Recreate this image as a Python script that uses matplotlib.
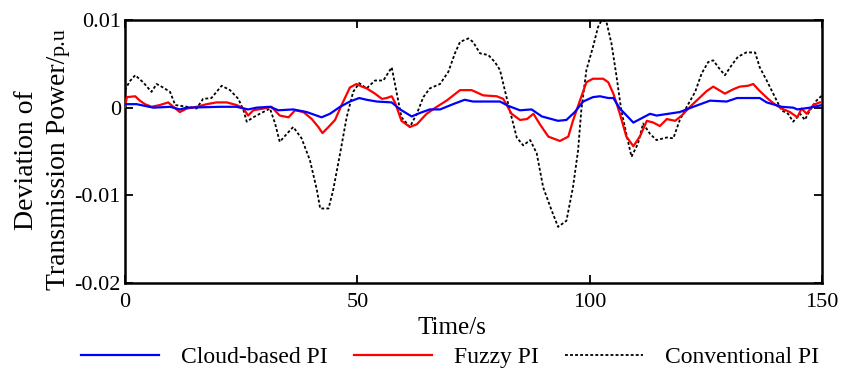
import matplotlib.pyplot as plt
import numpy as np

plt.rcParams['font.family'] = ['Liberation Serif', 'DejaVu Serif']
plt.rcParams['axes.unicode_minus'] = False

# values, in 1e-3 p.u.
t_cloud = [0, 2.5, 6.1, 9.7, 11.8, 13.3, 20.4, 24.0, 26.5, 28.3, 31.2, 33.0, 36.2, 39.1,
           42.3, 44.1, 46.3, 48.4, 50.4, 52.0, 54.2, 57.4, 59.2, 61.7, 63.5, 65.6, 67.8,
           70.6, 73.1, 74.9, 80.7, 82.5, 85.0, 87.5, 89.7, 93.2, 95.0, 96.8, 98.6, 100.7,
           102.2, 104.0, 105.1, 106.5, 109.4, 113.0, 114.4, 119.4, 122.3, 125.9, 129.5,
           131.7, 136.6, 138.1, 141.3, 143.8, 144.7, 147.4, 150]
v_cloud = [0.4, 0.4, 0.0, 0.1, -0.2, 0.0, 0.1, 0.1, -0.2, 0.0, 0.1, -0.3, -0.2, -0.5,
           -1.1, -0.7, 0.1, 0.7, 1.1, 0.9, 0.7, 0.6, -0.2, -1.0, -0.6, -0.2, -0.2,
           0.4, 0.9, 0.7, 0.7, 0.2, -0.3, -0.2, -1.0, -1.5, -1.4, -0.5, 0.7, 1.2,
           1.3, 1.1, 1.1, -0.1, -1.7, -0.7, -0.9, -0.5, 0.1, 0.8, 0.7,
           1.1, 1.1, 0.6, 0.1, 0.0, -0.2, 0.0, 0.3]

t_fuzzy = [0, 0.4, 2.2, 3.2, 4.3, 5.7, 7.5, 9.3, 10.4, 11.8, 13.3, 15.4, 17.6, 19.7, 21.9,
           24.0, 25.5, 26.5, 27.6, 29.8, 31.5, 33.3, 35.2, 36.6, 38.4, 40.2, 41.6, 42.5,
           43.8, 45.2, 46.7, 48.4, 49.8, 51.0, 52.0, 53.8, 55.3, 56.3, 57.4, 58.1, 59.5,
           61.3, 62.8, 64.9, 67.1, 69.2, 72.1, 74.6, 77.1, 80.0, 81.4, 83.2, 85.0, 86.5,
           87.9, 89.3, 91.1, 93.6, 95.4, 96.4, 97.9, 99.3, 100.7, 102.9, 104.0, 105.1,
           106.5, 107.9, 109.4, 110.8, 112.3, 113.7, 115.1, 116.6, 118.4, 119.8, 121.6,
           123.8, 125.2, 126.6, 129.1, 130.9, 132.3, 134.1, 135.2, 136.6, 138.4, 139.8,
           141.3, 143.1, 144.7, 145.6, 146.7, 148.1, 149.5, 150]
v_fuzzy = [0.1, 1.2, 1.3, 0.8, 0.4, 0.1, 0.3, 0.6, 0.1, -0.5, -0.1, 0.1, 0.4, 0.6, 0.6,
           0.3, -0.1, -0.9, -0.3, -0.1, 0.1, -0.9, -1.1, -0.3, -0.5, -1.3, -2.2, -2.9,
           -2.2, -1.4, 0.4, 2.3, 2.7, 2.4, 2.2, 1.6, 1.0, 1.1, 1.3, 0.6, -1.5,
           -2.2, -1.9, -0.7, 0.1, 0.8, 2.0, 2.0, 1.4, 1.3, 1.0, -0.7, -1.4, -1.3,
           -0.7, -1.9, -3.3, -3.8, -3.3, -1.5, 0.8, 2.9, 3.3, 3.3, 2.9, 1.6,
           -0.7, -3.3, -4.4, -3.3, -1.5, -1.7, -2.1, -1.3, -1.5, -0.9, 0.1,
           1.2, 1.9, 2.4, 1.6, 2.1, 2.4, 2.5, 2.7, 1.9, 1.0, 0.4,
           -0.1, -0.5, -1.1, -0.1, -0.7, 0.3, 0.6, 0.6]

t_conv = [0, 1.0, 2.2, 3.9, 5.7, 6.8, 8.2, 9.7, 10.8, 13.3, 15.4, 16.8, 18.6, 20.8, 22.6,
          24.4, 25.5, 26.2, 27.6, 29.0, 31.2, 32.3, 33.3, 34.8, 36.2, 38.0, 39.8, 41.3,
          42.0, 43.8, 44.8, 46.3, 47.7, 49.1, 50.4, 52.0, 53.8, 55.6, 57.4, 58.5, 59.5,
          61.3, 62.8, 64.2, 65.6, 67.8, 69.6, 71.0, 72.1, 73.9, 74.9, 76.4, 78.2, 79.6,
          80.7, 82.1, 83.2, 84.3, 85.7, 87.2, 88.6, 90.0, 91.8, 93.2, 95.0, 96.4, 97.5,
          98.2, 99.3, 100.7, 101.8, 102.6, 103.6, 104.7, 105.8, 106.8, 107.9, 109.0,
          110.4, 111.5, 113.0, 114.4, 116.6, 118.0, 119.4, 120.9, 122.7, 124.1, 125.5,
          126.6, 127.7, 129.1, 130.5, 131.9, 133.7, 135.6, 136.6, 138.1, 139.5, 141.3,
          142.7, 143.8, 145.3, 146.3, 147.4, 148.8, 150]
v_conv = [2.0, 3.0, 3.7, 2.9, 1.8, 2.7, 2.3, 1.8, 0.3, 0.1, -0.1, 1.0, 1.1, 2.5, 2.0,
          1.0, -0.3, -1.6, -1.1, -0.7, -0.1, -1.8, -3.9, -3.0, -2.2, -3.5, -6.0, -9.4,
          -11.5, -11.5, -9.4, -5.2, -1.1, 1.8, 2.8, 2.2, 3.1, 3.1, 4.6, 1.6, -1.1,
          -2.2, -0.7, 1.2, 2.2, 2.7, 4.1, 6.2, 7.5, 7.9, 7.5, 6.2, 6.0, 5.2,
          4.3, 1.2, -1.1, -3.4, -4.3, -3.7, -5.2, -9.1, -11.7, -13.6, -12.9, -9.1, -4.9,
          -0.3, 4.3, 6.9, 9.2, 10.0, 9.8, 7.3, 3.5, -0.3, -3.0, -5.6,
          -4.1, -1.8, -3.0, -3.7, -3.4, -3.5, -1.4, 0.1, 1.8, 3.9, 5.2,
          5.4, 4.6, 3.7, 4.8, 5.8, 6.3, 6.3, 4.6, 3.1, 1.6, -0.3,
          -0.7, -1.6, -0.7, -1.4, -0.3, 0.8, 1.4]

labels = ['Cloud-based PI', 'Fuzzy PI', 'Conventional PI']
yticks = [0.01, 0, -0.01, -0.02]
ytick_labels = ['0.01', '0', '-0.01', '-0.02']
xticks = [0, 50, 100, 150]

fig = plt.figure(figsize=(8.46, 3.69), dpi=100)
ax = fig.add_axes([125/846, 1-283/369, 697/846, 263/369])

ax.plot(t_conv, np.array(v_conv)*1e-3, color='black', lw=1.3, ls=(0, (1.6, 1.2)),
        label=labels[2], zorder=2)
ax.plot(t_fuzzy, np.array(v_fuzzy)*1e-3, color='red', lw=1.6, label=labels[1], zorder=3)
ax.plot(t_cloud, np.array(v_cloud)*1e-3, color='blue', lw=1.6, label=labels[0], zorder=4)

ax.set_xlim(0, 150)
ax.set_ylim(-0.02, 0.01)
ax.set_xticks(xticks)
ax.set_yticks(yticks)
ax.set_yticklabels(ytick_labels)
ax.tick_params(direction='in', length=6, width=1.3, top=True, right=True, labelsize=16)
ax.tick_params(axis='x', pad=7)
ax.tick_params(axis='y', pad=3)
for s in ax.spines.values():
    s.set_linewidth(1.8)

fig.text(452/846, 1-334/369, 'Time/s', ha='center', va='baseline', fontsize=18)

# two line y label, with a smaller unit
fig.text(33/846, 1-160/369, 'Deviation of', rotation=90, rotation_mode='anchor',
         ha='center', va='baseline', fontsize=20)
t2 = fig.text(65/846, 1-290/369, 'Transmission Power/', rotation=90, rotation_mode='anchor',
              ha='left', va='baseline', fontsize=20)
bb = t2.get_window_extent(renderer=fig.canvas.get_renderer())
fig.text(65/846, bb.y1/369, 'p.u', rotation=90, rotation_mode='anchor',
         ha='left', va='baseline', fontsize=16)

h, l = ax.get_legend_handles_labels()
order = [2, 1, 0]
fig.legend([h[i] for i in order], [l[i] for i in order], loc='center',
           bbox_to_anchor=(450/846, 1-357/369), ncol=3, frameon=False, fontsize=17,
           handlelength=3.3, handletextpad=0.95, columnspacing=1.1, borderpad=0)

fig.savefig('out.png', dpi=100)
